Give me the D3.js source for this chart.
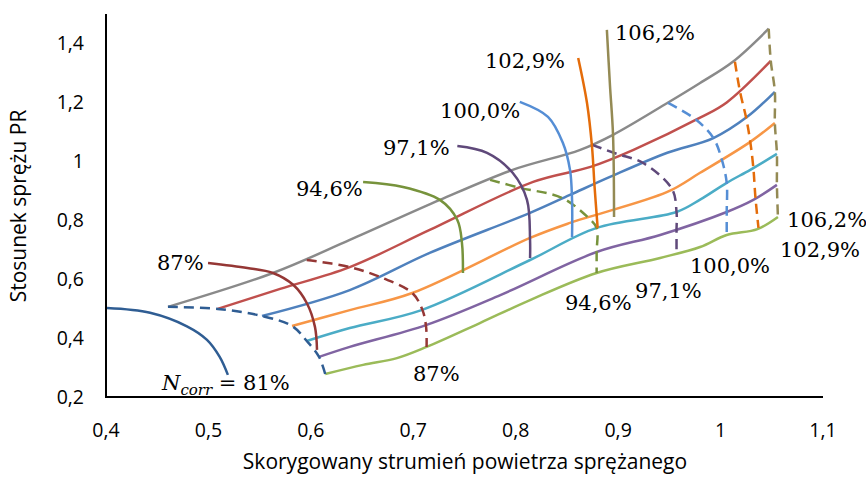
<!DOCTYPE html>
<meta charset="utf-8">
<html>

<!-- D3 -->
<script src="https://d3js.org/d3.v7.min.js"></script>

<style>
    body {
        margin: 0;
        background-color: #fff;
    }
    .tick-label {
        font-family: "Open Sans", sans-serif;
        font-size: 19.5px;
        fill: #000;
    }
    .axis-title {
        font-family: "Open Sans", sans-serif;
        font-size: 21px;
        fill: #000;
    }
    .speed-label {
        font-family: "DejaVu Serif", serif;
        font-size: 21px;
        fill: #000;
    }
</style>

<body>
<svg id="chart"></svg>

<script>
// ----------------------------- data -----------------------------

// x = corrected mass flow, y = pressure ratio PR

// lines going from the surge side (81%) to the 106,2% side
const lineGrey   = [[0.4605,0.506],[0.563,0.621],[0.638,0.733],[0.726,0.869],[0.797,0.971],[0.863,1.039],[0.895,1.090],[0.948,1.198],[0.980,1.266],[1.012,1.338],[1.047,1.450]];
const lineRed    = [[0.509,0.499],[0.570,0.567],[0.638,0.641],[0.716,0.767],[0.817,0.930],[0.873,0.981],[0.915,1.039],[0.980,1.148],[1.006,1.200],[1.049,1.341]];
const lineBlue   = [[0.5523,0.475],[0.638,0.563],[0.716,0.689],[0.814,0.825],[0.853,0.886],[0.892,0.947],[0.948,1.029],[0.993,1.079],[1.026,1.151],[1.053,1.236]];
const lineOrange = [[0.5816,0.441],[0.638,0.495],[0.699,0.553],[0.814,0.740],[0.853,0.791],[0.948,0.896],[0.980,0.961],[1.029,1.066],[1.053,1.130]];
const lineTeal   = [[0.596,0.390],[0.638,0.434],[0.708,0.495],[0.814,0.665],[0.879,0.774],[0.957,0.828],[0.980,0.870],[1.006,0.927],[1.029,0.971],[1.055,1.025]];
const linePurple = [[0.608,0.336],[0.638,0.370],[0.713,0.445],[0.785,0.546],[0.879,0.692],[0.941,0.750],[1.006,0.828],[1.032,0.869],[1.055,0.920]];
const lineGreen  = [[0.614,0.278],[0.651,0.309],[0.684,0.332],[0.713,0.370],[0.765,0.451],[0.814,0.529],[0.879,0.621],[0.941,0.672],[0.980,0.709],[1.006,0.750],[1.036,0.770],[1.056,0.811]];

// speed lines inside the map (dashed)
const speed81  = [[0.4605,0.506],[0.509,0.499],[0.5523,0.475],[0.5816,0.441],[0.596,0.390],[0.608,0.336],[0.614,0.278]];
const speed87  = [[0.596,0.665],[0.638,0.641],[0.670,0.604],[0.699,0.553],[0.709,0.495],[0.7125,0.438],[0.713,0.370]];
const speed946 = [[0.775,0.937],[0.804,0.910],[0.845,0.876],[0.871,0.808],[0.879,0.774],[0.879,0.692],[0.879,0.621]];
const speed971 = [[0.8745,1.056],[0.899,1.025],[0.924,0.995],[0.9526,0.906],[0.957,0.828],[0.957,0.765],[0.957,0.689]];
const speed100 = [[0.9487,1.198],[0.975,1.144],[0.993,1.079],[1.001,1.008],[1.006,0.927],[1.006,0.828],[1.006,0.750]];
const speed1029 = [[1.014,1.338],[1.019,1.236],[1.025,1.147],[1.029,1.066],[1.032,0.978],[1.034,0.879],[1.037,0.774]];
const speed1062 = [[1.047,1.450],[1.049,1.341],[1.053,1.236],[1.053,1.130],[1.055,1.025],[1.055,0.920],[1.056,0.811]];

// speed curves outside the map (solid)
const ext81   = [[0.401,0.502],[0.443,0.486],[0.479,0.440],[0.4986,0.394],[0.511,0.336],[0.519,0.275]];
const ext87   = [[0.4996,0.655],[0.538,0.638],[0.563,0.621],[0.583,0.580],[0.596,0.519],[0.604,0.438],[0.606,0.360]];
const ext946  = [[0.651,0.930],[0.690,0.913],[0.726,0.869],[0.743,0.801],[0.7475,0.723],[0.7485,0.621]];
const ext971  = [[0.743,1.052],[0.772,1.029],[0.797,0.961],[0.811,0.869],[0.814,0.733],[0.814,0.672]];
const ext100  = [[0.804,1.202],[0.8315,1.151],[0.846,1.063],[0.853,0.971],[0.855,0.869],[0.855,0.743]];
const ext1029 = [[0.861,1.351],[0.8696,1.198],[0.8745,1.049],[0.877,0.913],[0.880,0.774]];
const ext1062 = [[0.889,1.446],[0.892,1.259],[0.895,1.090],[0.896,0.811]];

// axis ticks
const xTicks = [0.4, 0.5, 0.6, 0.7, 0.8, 0.9, 1.0, 1.1];
const yTicks = [0.2, 0.4, 0.6, 0.8, 1.0, 1.2, 1.4];

// text labels (data units, left / baseline)
const labelText = ["87%", "94,6%", "97,1%", "100,0%", "102,9%", "106,2%",
                   "87%", "94,6%", "97,1%", "100,0%", "102,9%", "106,2%"];
const labelX = [0.4498, 0.5855, 0.6704, 0.7261, 0.7700, 0.8969,
                0.6997, 0.8481, 0.9165, 0.9701, 1.0580, 1.0649];
const labelY = [0.631, 0.8825, 1.0217, 1.1474, 1.3172, 1.4122,
                0.254, 0.4954, 0.5362, 0.6211, 0.6754, 0.7772];


// ----------------------------- chart -----------------------------
let width = 866, height = 477;

let svg = d3.select("#chart")
    .attr("width", width)
    .attr("height", height);

// plot area (Excel style, no gridlines)
let x = d3.scaleLinear().domain([0.4, 1.1]).range([106, 823]);
let y = d3.scaleLinear().domain([0.2, 1.5]).range([397, 14]);

let line = d3.line()
    .x(d => x(d[0]))
    .y(d => y(d[1]))
    .curve(d3.curveCatmullRom.alpha(0.5));

// series table built from the arrays above
const series = [
    { d: lineGrey,   c: "#8a8a8a" },
    { d: lineRed,    c: "#c0504d" },
    { d: lineBlue,   c: "#4f81bd" },
    { d: lineOrange, c: "#f79646" },
    { d: lineTeal,   c: "#4bacc6" },
    { d: linePurple, c: "#8064a2" },
    { d: lineGreen,  c: "#9bbb59" },

    { d: speed81,   c: "#2f5d93", dash: true },
    { d: speed87,   c: "#953735", dash: true },
    { d: speed946,  c: "#77933c", dash: true },
    { d: speed971,  c: "#5f497a", dash: true },
    { d: speed100,  c: "#558ed5", dash: true },
    { d: speed1029, c: "#e46c0a", dash: true },
    { d: speed1062, c: "#948a54", dash: true },

    { d: ext81,   c: "#2f5d93" },
    { d: ext87,   c: "#953735" },
    { d: ext946,  c: "#77933c" },
    { d: ext971,  c: "#5f497a" },
    { d: ext100,  c: "#558ed5" },
    { d: ext1029, c: "#e46c0a" },
    { d: ext1062, c: "#948a54" }
];

svg.append("g")
    .selectAll("path")
    .data(series)
    .enter()
    .append("path")
        .attr("d", s => line(s.d))
        .attr("fill", "none")
        .attr("stroke", s => s.c)
        .attr("stroke-width", 2.5)
        .attr("stroke-dasharray", s => s.dash ? "10,6" : null)
        .attr("stroke-linecap", "butt");

// axes lines
svg.append("line")
    .attr("x1", x(0.4)).attr("x2", x(0.4))
    .attr("y1", y(1.5)).attr("y2", y(0.2) + 1)
    .attr("stroke", "#000").attr("stroke-width", 2);
svg.append("line")
    .attr("x1", x(0.4) - 1).attr("x2", x(1.1))
    .attr("y1", y(0.2)).attr("y2", y(0.2))
    .attr("stroke", "#000").attr("stroke-width", 2);

let fmt = d => String(+d.toFixed(1)).replace(".", ",");

// tick labels
svg.append("g")
    .selectAll("text")
    .data(xTicks)
    .enter()
    .append("text")
        .attr("class", "tick-label")
        .attr("x", d => x(d))
        .attr("y", 437)
        .attr("text-anchor", "middle")
        .text(fmt);

svg.append("g")
    .selectAll("text")
    .data(yTicks)
    .enter()
    .append("text")
        .attr("class", "tick-label")
        .attr("x", 84)
        .attr("y", d => y(d) + 7)
        .attr("text-anchor", "end")
        .text(fmt);

// axis titles
svg.append("text")
    .attr("class", "axis-title")
    .attr("x", 465)
    .attr("y", 469)
    .attr("text-anchor", "middle")
    .attr("font-size", "21px")
    .text("Skorygowany strumień powietrza sprężanego");

svg.append("text")
    .attr("class", "axis-title")
    .attr("transform", "translate(26,206) rotate(-90)")
    .attr("text-anchor", "middle")
    .text("Stosunek sprężu PR");

// speed labels
svg.append("g")
    .selectAll("text")
    .data(labelText)
    .enter()
    .append("text")
        .attr("class", "speed-label")
        .attr("x", (d, i) => x(labelX[i]))
        .attr("y", (d, i) => y(labelY[i]))
        .text(d => d);

// N_corr = 81% label
let nLab = svg.append("text")
    .attr("class", "speed-label")
    .attr("x", x(0.4547))
    .attr("y", y(0.2238));
nLab.append("tspan").attr("font-style", "italic").text("N");
nLab.append("tspan").attr("font-style", "italic").attr("font-size", "15px").attr("dy", 5).text("corr");
nLab.append("tspan").attr("dy", -5).text(" = 81%");

</script>
</body>
</html>
